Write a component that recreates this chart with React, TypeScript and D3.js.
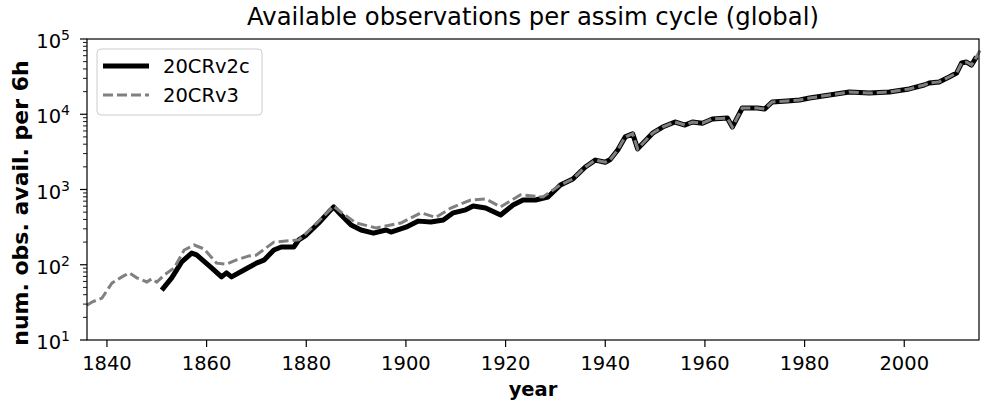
import React, { useEffect, useRef } from 'react';
import * as d3 from 'd3';

// 20CRv2c observations per 6h cycle
const v2cYears = [1851, 1853, 1855, 1857, 1858, 1861, 1863, 1864, 1865, 1867.5, 1870, 1871.5, 1873.5, 1875, 1877.5, 1878.5, 1880, 1882.5, 1884.5, 1885.5, 1887, 1889, 1891, 1893.5, 1896, 1897, 1900, 1902.5, 1905, 1907.5, 1909.5, 1912, 1913.5, 1916, 1919, 1921.5, 1923.5, 1926, 1928.5, 1931, 1933.5, 1936, 1938, 1940, 1941, 1942.5, 1944, 1945.5, 1946.5, 1949.5, 1951.5, 1954, 1956, 1957.5, 1959.5, 1961.5, 1964.5, 1965.5, 1967.5, 1970.5, 1972, 1973.5, 1976.5, 1979, 1981, 1985, 1989, 1993, 1997, 2001, 2004, 2005, 2007, 2009, 2010.5, 2011.5, 2012.5, 2013.5, 2014.5];
const v2cValues = [46, 67, 109, 143, 135, 91, 69, 78, 69, 85, 105, 115, 157, 172, 172, 214, 248, 359, 501, 585, 458, 337, 290, 263, 290, 272, 316, 380, 370, 394, 490, 537, 603, 567, 458, 622, 725, 725, 795, 1150, 1380, 1990, 2460, 2300, 2500, 3350, 5000, 5500, 3470, 5600, 6760, 7890, 7190, 7890, 7600, 8650, 8910, 6760, 12100, 12100, 11750, 14550, 15000, 15500, 16400, 18000, 19800, 19100, 19800, 21700, 24500, 26000, 26900, 31300, 35300, 47900, 49400, 45100, 58000];

// 20CRv3
const v3Years = [1836, 1837, 1839, 1841, 1843, 1844.5, 1846, 1848, 1849, 1850, 1851.5, 1853.5, 1855.5, 1857.5, 1859.5, 1862, 1864, 1866, 1868.5, 1870, 1873.5, 1878.5, 1880, 1882.5, 1885.5, 1887.5, 1890, 1894, 1899, 1903, 1906, 1909, 1913, 1916, 1919, 1923, 1927.5, 1931, 1933.5, 1936, 1938, 1940, 1941, 1942.5, 1944, 1945.5, 1946.5, 1949.5, 1951.5, 1954, 1956, 1957.5, 1959.5, 1961.5, 1964.5, 1965.5, 1967.5, 1970.5, 1972, 1973.5, 1976.5, 1979, 1981, 1985, 1989, 1993, 1997, 2001, 2004, 2005, 2007, 2009, 2010.5, 2011.5, 2012.5, 2013.5, 2014.5, 2015.5];
const v3Values = [29, 32, 36, 57, 69, 78, 67, 59, 65, 59, 73, 91, 157, 183, 162, 105, 102, 116, 131, 135, 200, 214, 263, 380, 600, 470, 359, 309, 359, 490, 426, 567, 725, 750, 588, 850, 795, 1150, 1380, 1990, 2460, 2300, 2500, 3350, 5000, 5500, 3470, 5600, 6760, 7890, 7190, 7890, 7600, 8650, 8910, 6760, 12100, 12100, 11750, 14550, 15000, 15500, 16400, 18000, 19800, 19100, 19800, 21700, 24500, 26000, 26900, 31300, 35300, 47900, 49400, 45100, 58000, 76000];

const xTicks = [1840, 1860, 1880, 1900, 1920, 1940, 1960, 1980, 2000];
const yExponents = [1, 2, 3, 4, 5];

const font = "'DejaVu Sans', sans-serif";

export default function App() {
  const ref = useRef<SVGSVGElement>(null);

  useEffect(() => {
    document.body.style.margin = '0';
    const svg = d3.select(ref.current);
    svg.selectAll('*').remove();

    const margin = { top: 39, right: 4, bottom: 65, left: 87 };
    const width = 983 - margin.left - margin.right;
    const height = 405 - margin.top - margin.bottom;

    const x = d3.scaleLinear().domain([1836, 2015]).range([0, width]);
    const y = d3.scaleLog().domain([10, 100000]).range([height, 0]);

    const g = svg.append('g').attr('transform', `translate(${margin.left},${margin.top})`);

    // title
    svg.append('text')
      .attr('x', margin.left + width / 2)
      .attr('y', 25)
      .attr('text-anchor', 'middle')
      .style('font-family', font)
      .style('font-size', '24.3px')
      .text('Available observations per assim cycle (global)');

    // lines
    const line = d3.line<[number, number]>()
      .x((d) => x(d[0]))
      .y((d) => y(d[1]));

    g.append('path')
      .datum(v2cYears.map((yr, i) => [yr, v2cValues[i]] as [number, number]))
      .attr('d', line)
      .attr('fill', 'none')
      .attr('stroke', '#000')
      .attr('stroke-width', 5)
      .attr('stroke-linejoin', 'round');

    g.append('path')
      .datum(v3Years.map((yr, i) => [yr, v3Values[i]] as [number, number]))
      .attr('d', line)
      .attr('fill', 'none')
      .attr('stroke', '#808080')
      .attr('stroke-width', 3)
      .attr('stroke-dasharray', '10,4');

    // frame
    g.append('rect')
      .attr('width', width)
      .attr('height', height)
      .attr('fill', 'none')
      .attr('stroke', '#000')
      .attr('stroke-width', 1.2);

    // x ticks
    xTicks.forEach((t) => {
      g.append('line')
        .attr('x1', x(t)).attr('x2', x(t))
        .attr('y1', height).attr('y2', height + 7)
        .attr('stroke', '#000').attr('stroke-width', 1.2);
      g.append('text')
        .attr('x', x(t))
        .attr('y', height + 30)
        .attr('text-anchor', 'middle')
        .style('font-family', font)
        .style('font-size', '19.5px')
        .text(t);
    });

    // y ticks (major + minor)
    yExponents.forEach((e) => {
      const v = Math.pow(10, e);
      g.append('line')
        .attr('x1', -7).attr('x2', 0)
        .attr('y1', y(v)).attr('y2', y(v))
        .attr('stroke', '#000').attr('stroke-width', 1.2);
      const lbl = g.append('text')
        .attr('x', -17)
        .attr('y', y(v) + 9)
        .attr('text-anchor', 'end')
        .style('font-family', font)
        .style('font-size', '19.5px');
      lbl.append('tspan').text('10');
      lbl.append('tspan')
        .attr('dy', -8)
        .style('font-size', '14px')
        .text(String(e));
      if (e < 5) {
        for (let k = 2; k <= 9; k++) {
          g.append('line')
            .attr('x1', -4).attr('x2', 0)
            .attr('y1', y(k * v)).attr('y2', y(k * v))
            .attr('stroke', '#000').attr('stroke-width', 0.9);
        }
      }
    });

    // axis labels
    svg.append('text')
      .attr('x', margin.left + width / 2)
      .attr('y', 396)
      .attr('text-anchor', 'middle')
      .style('font-family', font)
      .style('font-size', '19.5px')
      .style('font-weight', 'bold')
      .text('year');

    svg.append('text')
      .attr('transform', `translate(28,203) rotate(-90)`)
      .attr('text-anchor', 'middle')
      .style('font-family', font)
      .style('font-size', '22px')
      .style('font-weight', 'bold')
      .text('num. obs. avail. per 6h');

    // legend
    const legend = g.append('g').attr('transform', 'translate(10,10)');
    legend.append('rect')
      .attr('width', 165)
      .attr('height', 66)
      .attr('rx', 4)
      .attr('fill', 'rgba(255,255,255,0.8)')
      .attr('stroke', '#cccccc');
    const items = [
      { label: '20CRv2c', color: '#000', w: 5, dash: null as string | null },
      { label: '20CRv3', color: '#808080', w: 3, dash: '10,4' },
    ];
    items.forEach((it, i) => {
      const ly = 17 + i * 29;
      legend.append('line')
        .attr('x1', 6).attr('x2', 52)
        .attr('y1', ly).attr('y2', ly)
        .attr('stroke', it.color)
        .attr('stroke-width', it.w)
        .attr('stroke-dasharray', it.dash);
      legend.append('text')
        .attr('x', 66)
        .attr('y', ly + 7)
        .style('font-family', font)
        .style('font-size', '19.5px')
        .text(it.label);
    });
  }, []);

  return <svg ref={ref} width={983} height={405} style={{ display: 'block', background: '#fff' }} />;
}
